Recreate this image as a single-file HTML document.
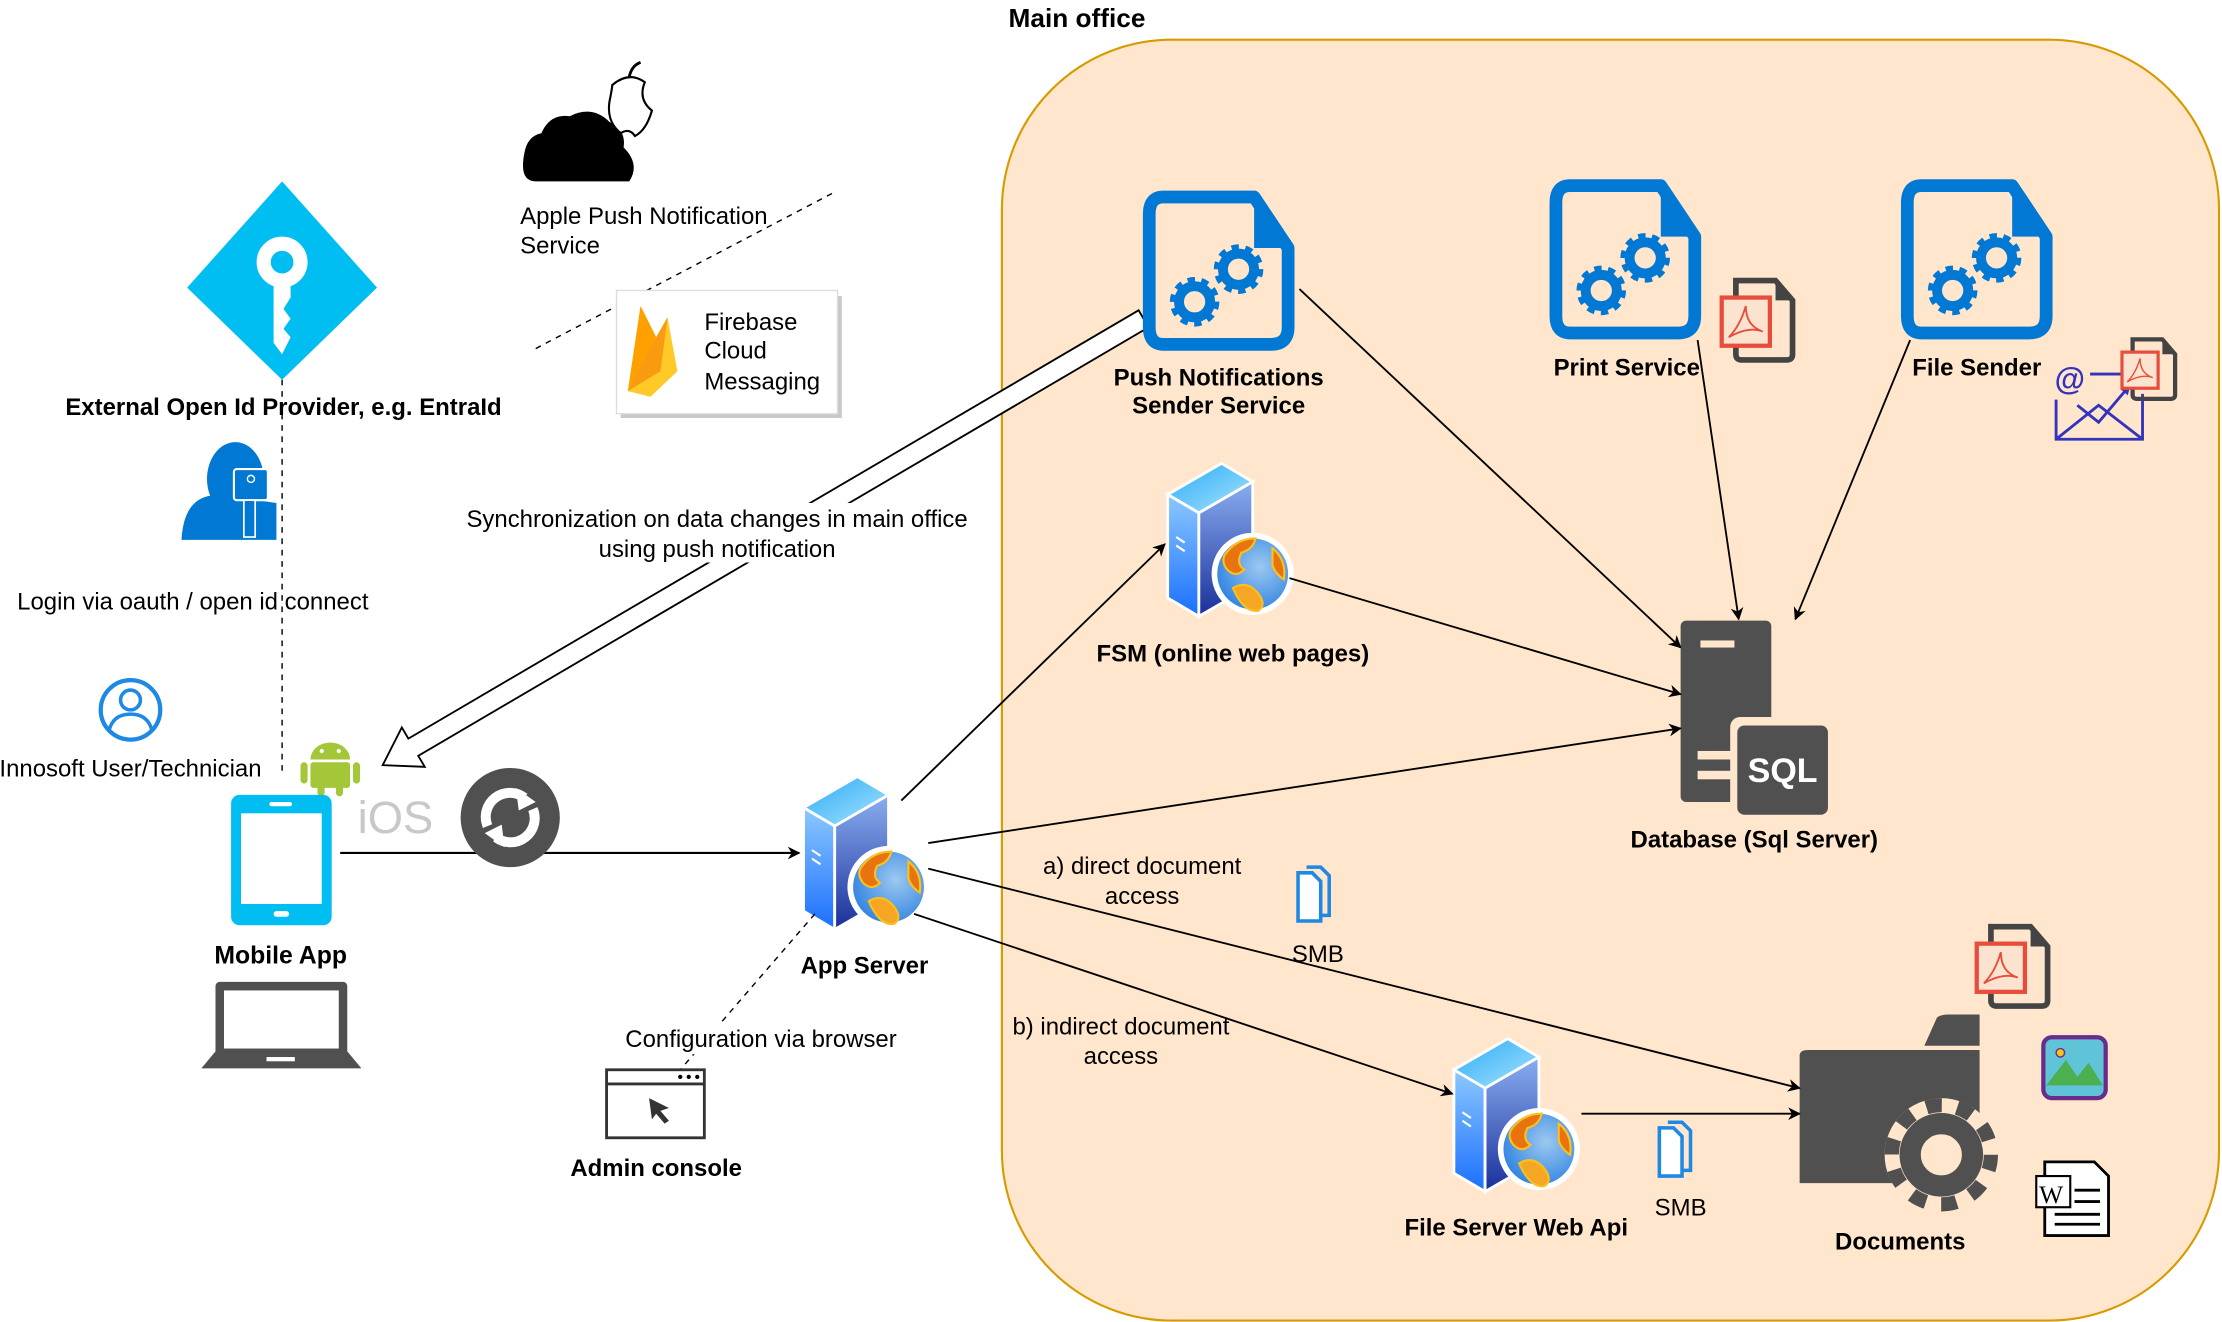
<!DOCTYPE html>
<html><head><meta charset="utf-8"><style>
html,body{margin:0;padding:0;background:#fff}
svg{display:block}
text{font-family:"Liberation Sans",Arial,sans-serif;font-size:16.9px;fill:#000}
.b{font-weight:bold}
</style></head><body>
<svg width="2222" height="1322" viewBox="0 0 1568 933" xmlns="http://www.w3.org/2000/svg">
<defs>
<marker id="ar" viewBox="0 0 10 10" refX="9" refY="5" markerWidth="9" markerHeight="9" markerUnits="userSpaceOnUse" orient="auto"><path d="M0,0 L10,5 L0,10 L3,5z" fill="#000"/></marker>
<marker id="ab" viewBox="0 0 10 10" refX="9" refY="5" markerWidth="7" markerHeight="7" markerUnits="userSpaceOnUse" orient="auto"><path d="M0,0 L10,5 L0,10z" fill="#3333bb"/></marker>
<linearGradient id="sf" x1="0" y1="0" x2="0" y2="1"><stop offset="0" stop-color="#8cc8ff"/><stop offset="1" stop-color="#1a6fff"/></linearGradient>
<linearGradient id="ss" x1="0" y1="0" x2="0" y2="1"><stop offset="0" stop-color="#8aaef0"/><stop offset="1" stop-color="#1a2f9a"/></linearGradient>
<linearGradient id="st" x1="0" y1="0" x2="1" y2="1"><stop offset="0" stop-color="#2aaaf5"/><stop offset="1" stop-color="#a8e4ff"/></linearGradient>
<radialGradient id="gl" cx="0.6" cy="0.4" r="0.7"><stop offset="0" stop-color="#9cc8f0"/><stop offset="1" stop-color="#2a7fe0"/></radialGradient>
<g id="srv">
 <polygon points="0,22 38,0 60,13 22,35" fill="url(#st)" stroke="#fff" stroke-width="2"/>
 <polygon points="0,22 22,35 22,108 0,95" fill="url(#sf)" stroke="#fff" stroke-width="2"/>
 <polygon points="22,35 60,13 60,86 22,108" fill="url(#ss)" stroke="#fff" stroke-width="2"/>
 <line x1="6" y1="52" x2="12" y2="56" stroke="#fff" stroke-width="1.5"/>
 <line x1="6" y1="58" x2="12" y2="62" stroke="#fff" stroke-width="1.5"/>
 <circle cx="60" cy="78" r="29" fill="#fff"/>
 <circle cx="60" cy="78" r="25" fill="url(#gl)"/>
 <path d="M40,65 q8,-12 22,-12 q-2,8 -10,10 q-4,8 2,12 q-6,6 -12,0 q-4,-5 -2,-10z" fill="#e87410" stroke="#f8c020" stroke-width="1.5"/>
 <path d="M46,88 q10,-6 18,4 q6,8 0,12 q-10,2 -18,-16z" fill="#f5a623" stroke="#f8c020" stroke-width="1.5"/>
 <path d="M74,60 q10,8 8,22 q-6,-4 -8,-10z" fill="#e87410" stroke="#f8c020" stroke-width="1.5"/>
</g>
<g id="doc">
 <path d="M14,4 H78 L102,40 V96 Q102,108 90,108 H14 Q4,108 4,96 V16 Q4,4 14,4z" fill="none" stroke="#0078d4" stroke-width="9" stroke-linejoin="round"/>
 <polygon points="78,4 102,40 78,40" fill="#0078d4"/>
 <circle cx="36" cy="78" r="11" fill="none" stroke="#0078d4" stroke-width="7"/>
 <circle cx="36" cy="78" r="15" fill="none" stroke="#0078d4" stroke-width="5" stroke-dasharray="5 4.4"/>
 <circle cx="67" cy="55" r="11" fill="none" stroke="#0078d4" stroke-width="7"/>
 <circle cx="67" cy="55" r="15" fill="none" stroke="#0078d4" stroke-width="5" stroke-dasharray="5 4.4"/>
</g>
<g id="pdf">
 <path d="M12,2 H40 L52,16 V54 Q52,58 48,58 H16 Q12,58 12,54z" fill="none" stroke="#444" stroke-width="4"/>
 <polygon points="40,2 52,16 40,16" fill="#444"/>
 <rect x="2" y="14" width="34" height="34" fill="#fbe3d0" stroke="#e84c3d" stroke-width="3"/>
 <path d="M19,20 q-4,14 -12,22 q14,-8 24,-4 q-12,-4 -12,-18z" fill="none" stroke="#e84c3d" stroke-width="1.3"/>
</g>
<g id="smb">
 <path d="M2,6 H12 L18,12 V40 H2z" fill="#fff" stroke="#1e88e5" stroke-width="2.5"/>
 <path d="M8,2 H18 L24,8 V36 H18" fill="none" stroke="#1e88e5" stroke-width="2.5"/>
</g>
</defs>

<rect x="707" y="28" width="859" height="904" rx="120" ry="120" fill="#ffe6cc" stroke="#d79b00" stroke-width="1.5"/>
<text x="760" y="19" class="b" text-anchor="middle" style="font-size:18.5px">Main office</text>

<polygon points="199,128 266,203 199,268 132,203" fill="#00bef2"/>
<circle cx="199" cy="185" r="13" fill="none" stroke="#fff" stroke-width="10"/>
<path d="M193,196 V242 L199,250 L205,238 L200,232 L205,225 L200,218 L205,210 V196z" fill="#fff"/>
<text x="200" y="293" class="b" text-anchor="middle">External Open Id Provider, e.g. EntraId</text>
<line x1="199" y1="268" x2="199" y2="545" stroke="#000" stroke-dasharray="4 4"/>

<ellipse cx="166" cy="338" rx="20" ry="26" fill="#0078d4"/>
<path d="M128,381 Q130,345 160,350 L195,355 L195,381z" fill="#0078d4"/>
<rect x="165" y="331" width="24" height="22" rx="2" fill="#0078d4" stroke="#fff" stroke-width="1.5"/>
<circle cx="177" cy="338" r="2.5" fill="none" stroke="#fff"/>
<rect x="172" y="353" width="8" height="26" fill="#0078d4" stroke="#fff" stroke-width="1.2"/>
<text x="136" y="430" text-anchor="middle">Login via oauth / open id connect</text>

<circle cx="92" cy="501" r="21" fill="none" stroke="#1e88e5" stroke-width="3"/>
<circle cx="92" cy="494" r="7" fill="none" stroke="#1e88e5" stroke-width="2.5"/>
<path d="M77,515 Q80,504 92,504 Q104,504 107,515" fill="none" stroke="#1e88e5" stroke-width="2.5"/>
<text x="92" y="548" text-anchor="middle">Innosoft User/Technician</text>

<path d="M219,536 a14,12 0 0 1 28,0z" fill="#a4c639"/>
<rect x="219" y="538" width="28" height="18" rx="2" fill="#a4c639"/>
<rect x="212" y="538" width="5" height="15" rx="2.5" fill="#a4c639"/>
<rect x="249" y="538" width="5" height="15" rx="2.5" fill="#a4c639"/>
<rect x="224" y="552" width="5" height="10" rx="2.5" fill="#a4c639"/>
<rect x="237" y="552" width="5" height="10" rx="2.5" fill="#a4c639"/>
<circle cx="227" cy="530" r="1.5" fill="#fff"/><circle cx="239" cy="530" r="1.5" fill="#fff"/>
<text x="279" y="588" text-anchor="middle" style="font-size:32px;fill:#c8c8c8">iOS</text>

<rect x="163" y="561" width="71" height="92" rx="6" fill="#00bef2"/>
<rect x="170" y="574" width="57" height="64" fill="#fff"/>
<rect x="190" y="566" width="16" height="3" rx="1.5" fill="#fff"/>
<rect x="193" y="643" width="11" height="4" rx="2" fill="#fff"/>
<text x="198" y="680" class="b" text-anchor="middle" style="font-size:17.5px">Mobile App</text>
<rect x="152" y="693" width="93" height="54" rx="3" fill="#505050"/>
<rect x="158" y="699" width="81" height="41" fill="#fff"/>
<path d="M142,754 L152,742 H245 L255,754z" fill="#505050"/>
<rect x="188" y="746" width="20" height="3" fill="#fff"/>

<line x1="240" y1="602" x2="564" y2="602" stroke="#000" stroke-width="1.5" marker-end="url(#ar)"/>
<circle cx="360" cy="577" r="35" fill="#505050"/>
<path d="M344,583 a17,17 0 0 1 26,-20" fill="none" stroke="#fff" stroke-width="7"/>
<polygon points="364,556 378,566 366,572" fill="#fff"/>
<path d="M376,571 a17,17 0 0 1 -26,20" fill="none" stroke="#fff" stroke-width="7"/>
<polygon points="356,598 342,588 354,582" fill="#fff"/>

<use href="#srv" x="567" y="548"/>
<text x="610" y="687" class="b" text-anchor="middle">App Server</text>
<line x1="575" y1="645" x2="480" y2="755" stroke="#000" stroke-dasharray="4 4"/>
<rect x="438" y="722" width="200" height="22" fill="#fff"/>
<text x="537" y="739" text-anchor="middle">Configuration via browser</text>
<rect x="428" y="755" width="69" height="48" fill="#fff" stroke="#333" stroke-width="2"/>
<line x1="428" y1="765" x2="497" y2="765" stroke="#333" stroke-width="2"/>
<circle cx="480" cy="760" r="1.5"/><circle cx="486" cy="760" r="1.5"/><circle cx="492" cy="760" r="1.5"/>
<path d="M458,775 L472,782 L466,784 L472,791 L469,793 L463,786 L460,790z" fill="#333"/>
<text x="463" y="830" class="b" text-anchor="middle">Admin console</text>

<path d="M378,128 Q366,128 370,108 Q372,96 382,94 Q388,80 402,82 Q418,74 430,86 Q442,92 440,104 Q452,116 444,128z" fill="#000"/>
<path d="M432,60 Q444,50 455,58 Q450,70 460,78 Q456,92 448,96 Q444,90 438,94 Q428,86 430,72 Q432,62 432,60z" fill="#fff" stroke="#000" stroke-width="1.5"/>
<path d="M444,54 Q446,46 452,44" fill="none" stroke="#000" stroke-width="2"/>
<text x="367" y="158">Apple Push Notification</text>
<text x="367" y="179">Service</text>
<line x1="378" y1="246" x2="590" y2="135" stroke="#000" stroke-dasharray="4 4"/>

<rect x="438" y="209" width="156" height="86" fill="#c8c8c8"/>
<rect x="435" y="205" width="156" height="87" fill="#fff" stroke="#ddd"/>
<polygon points="443,276 452,216 463,238 471,224 478,262 459,280" fill="#ffca28"/>
<polygon points="443,276 452,216 463,238" fill="#ffa000"/>
<polygon points="443,276 463,238 471,224 466,262" fill="#f57c00" opacity="0.6"/>
<text x="497" y="233">Firebase</text>
<text x="497" y="253">Cloud</text>
<text x="497" y="275">Messaging</text>

<polygon points="810.5,231 295.1,533.4 299.7,541.2 270,540 283.5,513.4 288.1,521.3 803.5,219" fill="#fff" stroke="#000" stroke-width="1.3"/>
<rect x="323" y="355" width="366" height="42" fill="#fff"/>
<text x="506" y="372" text-anchor="middle">Synchronization on data changes in main office</text>
<text x="506" y="393" text-anchor="middle">using push notification</text>

<use href="#doc" x="807" y="135"/>
<text x="860" y="272" class="b" text-anchor="middle">Push Notifications</text>
<text x="860" y="292" class="b" text-anchor="middle">Sender Service</text>
<use href="#doc" x="1094" y="127"/>
<text x="1148" y="265" class="b" text-anchor="middle">Print Service</text>
<use href="#pdf" x="1213" y="196"/>
<use href="#doc" x="1342" y="127"/>
<text x="1395" y="265" class="b" text-anchor="middle">File Sender</text>
<text x="1450" y="275" style="font-size:22px;fill:#3333bb;font-weight:bold">@</text>
<path d="M1451,282 V310 H1512 V278" fill="none" stroke="#3333bb" stroke-width="2"/>
<path d="M1451,310 L1481,286 L1512,310" fill="none" stroke="#3333bb" stroke-width="2"/>
<path d="M1466,286 L1481,298 L1503,272" fill="none" stroke="#3333bb" stroke-width="2" marker-end="url(#ab)"/>
<line x1="1475" y1="264" x2="1505" y2="264" stroke="#3333bb" stroke-width="2"/>
<use href="#pdf" transform="translate(1496,238) scale(0.75)"/>

<use href="#srv" x="824" y="327"/>
<text x="870" y="467" class="b" text-anchor="middle">FSM (online web pages)</text>

<rect x="1186" y="438" width="64" height="128" rx="4" fill="#505050"/>
<rect x="1200" y="452" width="24" height="5" fill="#ffe6cc"/>
<rect x="1221" y="506" width="72" height="72" rx="7" fill="#ffe6cc"/>
<rect x="1226" y="512" width="64" height="63" rx="5" fill="#505050"/>
<rect x="1198" y="530" width="24" height="6" fill="#ffe6cc"/>
<rect x="1198" y="544" width="24" height="6" fill="#ffe6cc"/>
<text x="1258" y="552" text-anchor="middle" style="font-size:24px;fill:#fff;font-weight:bold">SQL</text>
<text x="1238" y="598" class="b" text-anchor="middle">Database (Sql Server)</text>

<use href="#smb" x="914" y="610"/>
<text x="930" y="679" text-anchor="middle">SMB</text>
<use href="#smb" x="1169" y="790"/>
<text x="1186" y="858" text-anchor="middle">SMB</text>

<use href="#srv" x="1026" y="733"/>
<text x="1070" y="872" class="b" text-anchor="middle">File Server Web Api</text>

<path d="M1358,738 L1367,718 Q1370,716 1375,716 H1397 V738z" fill="#505050"/>
<path d="M1270,745 Q1270,741 1276,741 H1397 V835 H1270z" fill="#505050"/>
<circle cx="1370" cy="815" r="40" fill="#ffe6cc"/>
<circle cx="1370" cy="815" r="22" fill="none" stroke="#505050" stroke-width="15"/>
<circle cx="1370" cy="815" r="35" fill="none" stroke="#505050" stroke-width="10" stroke-dasharray="11 11"/>
<text x="1341" y="882" class="b" text-anchor="middle">Documents</text>
<use href="#pdf" x="1393" y="652"/>
<rect x="1442" y="732" width="44" height="43" rx="6" fill="#5fc4d8" stroke="#6a2c8a" stroke-width="3"/>
<path d="M1444,766 L1458,748 L1466,760 L1474,750 L1484,766z" fill="#4caf50"/>
<circle cx="1454" cy="743" r="3" fill="#f5c518" stroke="#6a2c8a"/>
<path d="M1443,820 H1478 L1488,830 V872 H1443z" fill="#fff" stroke="#000" stroke-width="2"/>
<rect x="1437" y="830" width="24" height="22" fill="#fff" stroke="#000" stroke-width="1.5"/>
<text x="1439" y="849" style="font-family:'Liberation Serif',serif;font-size:18px">W</text>
<path d="M1464,840 H1482 M1464,848 H1482 M1450,857 H1482 M1450,864 H1482" stroke="#000" stroke-width="2"/>

<g stroke="#000" stroke-width="1.3" fill="none" marker-end="url(#ar)">
<line x1="917" y1="204" x2="1186" y2="457"/>
<line x1="1198" y1="240" x2="1227" y2="437"/>
<line x1="1348" y1="240" x2="1267" y2="437"/>
<line x1="910" y1="408" x2="1186" y2="490"/>
<line x1="655" y1="595" x2="1186" y2="514"/>
<line x1="636" y1="565" x2="822" y2="384"/>
<line x1="655" y1="613" x2="1270" y2="768"/>
<line x1="645" y1="645" x2="1025" y2="772"/>
<line x1="1116" y1="786" x2="1270" y2="786"/>
</g>
<text x="806" y="617" text-anchor="middle">a) direct document</text>
<text x="806" y="638" text-anchor="middle">access</text>
<text x="791" y="730" text-anchor="middle">b) indirect document</text>
<text x="791" y="751" text-anchor="middle">access</text>
</svg>
</body></html>
